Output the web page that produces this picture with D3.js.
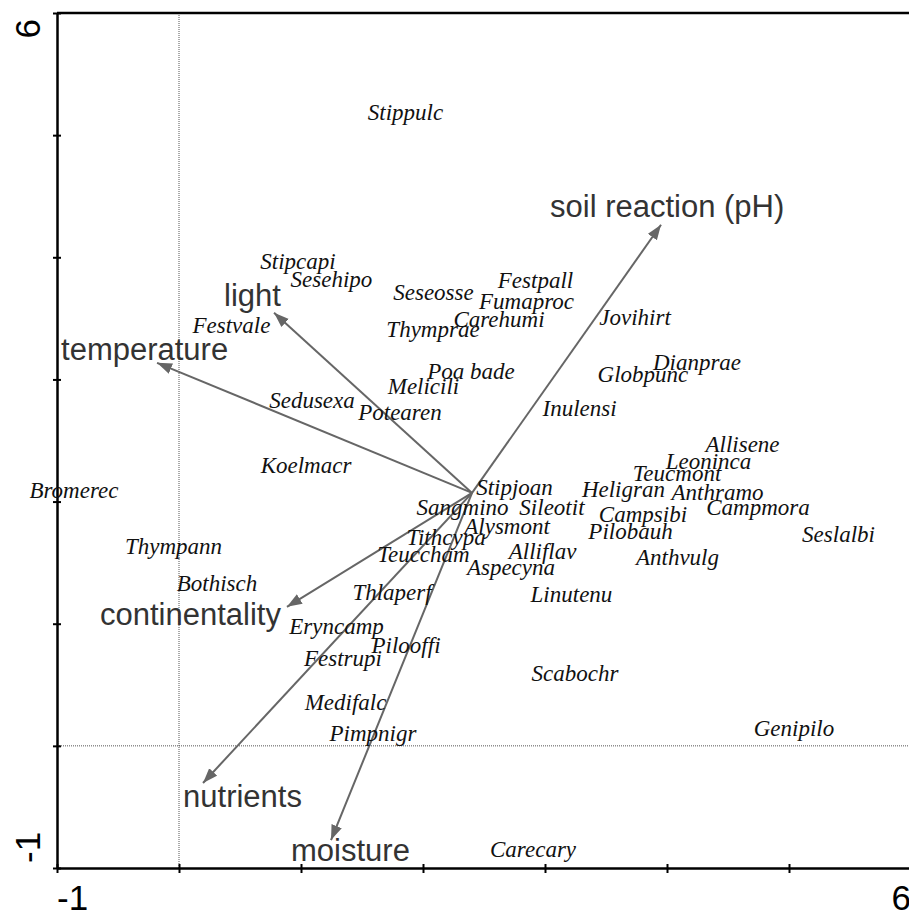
<!DOCTYPE html>
<html>
<head>
<meta charset="utf-8">
<script src="https://cdn.jsdelivr.net/npm/d3@7"></script>
<style>
  body { margin: 0; background: #fff; }
  svg { display: block; }
</style>
</head>
<body>
<div id="viz"></div>
<script>
// species scores (axis 1, axis 2)
const speciesNames = ['Stippulc', 'Stipcapi', 'Sesehipo', 'Seseosse', 'Festpall', 'Fumaproc', 'Carehumi',
  'Thymprae', 'Jovihirt', 'Festvale', 'Poa bade', 'Melicili', 'Dianprae', 'Globpunc', 'Sedusexa',
  'Potearen', 'Inulensi', 'Koelmacr', 'Allisene', 'Leoninca', 'Teucmont', 'Bromerec', 'Stipjoan',
  'Heligran', 'Anthramo', 'Sangmino', 'Sileotit', 'Campmora', 'Campsibi', 'Alysmont', 'Pilobauh',
  'Seslalbi', 'Tithcypa', 'Thympann', 'Teuccham', 'Alliflav', 'Anthvulg', 'Aspecyna', 'Bothisch',
  'Thlaperf', 'Linutenu', 'Eryncamp', 'Pilooffi', 'Festrupi', 'Scabochr', 'Medifalc', 'Pimpnigr',
  'Genipilo', 'Carecary'];
const speciesX = [1.857, 0.975, 1.250, 2.086, 2.922, 2.848, 2.623,
  2.082, 3.738, 0.430, 2.393, 2.004, 4.246, 3.803, 1.090,
  1.811, 3.283, 1.041, 4.619, 4.340, 4.082, -0.861, 2.750,
  3.643, 4.414, 2.324, 3.057, 4.746, 3.803, 2.689, 3.701,
  5.406, 2.189, -0.045, 2.004, 2.980, 4.086, 2.721, 0.311,
  1.746, 3.217, 1.291, 1.861, 1.344, 3.246, 1.365, 1.590,
  5.041, 2.902];
const speciesY = [5.183, 3.963, 3.816, 3.709, 3.808, 3.636, 3.488,
  3.406, 3.504, 3.439, 3.062, 2.939, 3.136, 3.038, 2.825,
  2.726, 2.759, 2.292, 2.464, 2.325, 2.227, 2.088, 2.112,
  2.096, 2.071, 1.948, 1.948, 1.948, 1.891, 1.793, 1.752,
  1.727, 1.703, 1.629, 1.563, 1.588, 1.539, 1.457, 1.326,
  1.252, 1.236, 0.974, 0.818, 0.712, 0.589, 0.351, 0.097,
  0.138, -0.853];

// environmental vectors, drawn from the common origin
const envOrigin = [2.402, 2.071];
const envNames = ['soil reaction (pH)', 'light', 'temperature', 'continentality', 'nutrients', 'moisture'];
const envX = [3.951, 0.779, -0.180, 0.885, 0.197, 1.246];
const envY = [4.266, 3.545, 3.136, 1.138, -0.304, -0.771];
// label offsets from arrow tip, px
const envLabelDx = [-111, -50, -96, -187, -20, -40];
const envLabelDy = [-8, -7, -3, 18, 24, 21];

const axisMin = -1, axisMax = 6;

const width = 909, height = 912;

const x = d3.scaleLinear().domain([axisMin, axisMax]).range([57, 911]);
const y = d3.scaleLinear().domain([axisMin, axisMax]).range([868, 13]);

const svg = d3.select('#viz').append('svg')
  .attr('width', width)
  .attr('height', height);

svg.append('defs').append('marker')
  .attr('id', 'arrow')
  .attr('viewBox', '0 -6 15 12')
  .attr('refX', 15)
  .attr('refY', 0)
  .attr('markerWidth', 15)
  .attr('markerHeight', 12)
  .attr('markerUnits', 'userSpaceOnUse')
  .attr('orient', 'auto')
  .append('path')
  .attr('fill', '#666')
  .attr('d', 'M0,-5.5L15,0L0,5.5Z');

// dotted zero lines
svg.append('line')
  .attr('x1', x(0)).attr('x2', x(0))
  .attr('y1', y(axisMax)).attr('y2', y(axisMin))
  .attr('stroke', '#555')
  .attr('stroke-width', 1)
  .attr('stroke-dasharray', '1,1');

svg.append('line')
  .attr('x1', x(axisMin)).attr('x2', x(axisMax))
  .attr('y1', y(0)).attr('y2', y(0))
  .attr('stroke', '#555')
  .attr('stroke-width', 1)
  .attr('stroke-dasharray', '1,1');

// axes
const xAxis = svg.append('g')
  .attr('transform', `translate(0,${y(axisMin)})`)
  .call(d3.axisBottom(x).ticks(7).tickSize(5).tickSizeOuter(0).tickFormat(''));

const yAxis = svg.append('g')
  .attr('transform', `translate(${x(axisMin)},0)`)
  .call(d3.axisLeft(y).ticks(7).tickSize(4).tickSizeOuter(0).tickFormat(''));

xAxis.select('.domain').attr('stroke', '#000').attr('stroke-width', 2.5);
yAxis.select('.domain').attr('stroke', '#000').attr('stroke-width', 2.5);
xAxis.selectAll('.tick line').attr('y1', -4).attr('stroke-width', 2);
yAxis.selectAll('.tick line').attr('x1', 4).attr('stroke-width', 2);

// top border
svg.append('line')
  .attr('x1', x(axisMin)).attr('x2', x(axisMax))
  .attr('y1', y(axisMax)).attr('y2', y(axisMax))
  .attr('stroke', '#000')
  .attr('stroke-width', 2.5);

// end labels only
const tickFont = '"Liberation Sans", Arial, sans-serif';
svg.append('text')
  .text(axisMin)
  .attr('x', x(axisMin))
  .attr('y', 910)
  .style('font', `35px ${tickFont}`);

svg.append('text')
  .text(axisMax)
  .attr('x', x(axisMax))
  .attr('y', 910)
  .attr('text-anchor', 'end')
  .style('font', `35px ${tickFont}`);

svg.append('text')
  .text(axisMax)
  .attr('transform', `translate(40,${y(axisMax) + 6}) rotate(-90)`)
  .attr('text-anchor', 'end')
  .style('font', `35px ${tickFont}`);

svg.append('text')
  .text(axisMin)
  .attr('transform', `translate(40,${y(axisMin) - 5}) rotate(-90)`)
  .style('font', `35px ${tickFont}`);

// env arrows
const env = envNames.map((name, i) => ({ name, x: envX[i], y: envY[i], dx: envLabelDx[i], dy: envLabelDy[i] }));

svg.append('g')
  .selectAll('line')
  .data(env)
  .join('line')
  .attr('x1', x(envOrigin[0]))
  .attr('y1', y(envOrigin[1]))
  .attr('x2', d => x(d.x))
  .attr('y2', d => y(d.y))
  .attr('stroke', '#666')
  .attr('stroke-width', 2)
  .attr('marker-end', 'url(#arrow)');

svg.append('g')
  .selectAll('text')
  .data(env)
  .join('text')
  .attr('x', d => x(d.x) + d.dx)
  .attr('y', d => y(d.y) + d.dy)
  .attr('fill', '#333')
  .style('font', `31px ${tickFont}`)
  .text(d => d.name);

// species
const species = speciesNames.map((name, i) => ({ name, x: speciesX[i], y: speciesY[i] }));

svg.append('g')
  .selectAll('text')
  .data(species)
  .join('text')
  .attr('x', d => x(d.x))
  .attr('y', d => y(d.y))
  .attr('dy', '0.3em')
  .attr('text-anchor', 'middle')
  .attr('fill', '#111')
  .style('font', 'italic 23px "Liberation Serif", "Times New Roman", serif')
  .text(d => d.name);
</script>
</body>
</html>
